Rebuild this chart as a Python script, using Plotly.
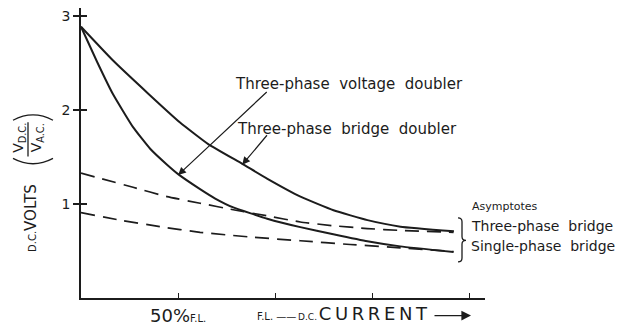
import plotly.graph_objects as go

# Output voltage ratio (V_DC / V_AC) against load current, in % of full load (F.L.)
load_voltage_doubler = [0, 16.5, 34.5, 51, 65.5, 83, 96, 113, 130, 147.5, 164.5, 192]
ratio_voltage_doubler = [2.89, 2.53, 2.18, 1.87, 1.64, 1.43, 1.27, 1.08, 0.935, 0.83, 0.76, 0.71]

load_bridge_doubler = [0, 8.2, 16.5, 26.8, 35.6, 44.3, 50, 61.3, 69.1, 78.4, 95.9, 112.9, 129.9, 147.4, 164.4, 191.8]
ratio_bridge_doubler = [2.89, 2.52, 2.17, 1.82, 1.59, 1.42, 1.32, 1.16, 1.06, 0.965, 0.845, 0.755, 0.68, 0.605, 0.55, 0.49]

# Asymptotes
load_three_phase = [0, 10.8, 26.8, 44.3, 61.3, 78.4, 95.9, 112.9, 129.9, 147.4, 164.4, 191.8]
ratio_three_phase = [1.33, 1.27, 1.18, 1.08, 1.01, 0.94, 0.875, 0.81, 0.77, 0.74, 0.72, 0.70]

load_single_phase = [0, 20.1, 40.7, 61.3, 87.1, 112.9, 138.6, 164.4, 191.8]
ratio_single_phase = [0.91, 0.83, 0.76, 0.70, 0.65, 0.61, 0.57, 0.535, 0.495]

y_ticks = [1, 2, 3]
x_ticks = [50, 100, 150, 200]
x_tick_text = ['50%<span style="font-size:10px">F.L.</span>', '', '', '']

INK = '#1c1c1c'
FONT = 'DejaVu Sans'

# plot-area geometry (pixels) used to place the hand-lettered decorations
L, R, T, B = 81, 151, 8, 29
W, H = 636, 334
PW, PH = W - L - R, H - T - B


def px(xp):
    return (xp - L) / PW


def py(yp):
    return (H - B - yp) / PH


fig = go.Figure()

solid = dict(color=INK, width=2, shape='spline', smoothing=0.4)
dashed = dict(color=INK, width=1.7, dash='14px,8px', shape='spline', smoothing=0.4)

fig.add_trace(go.Scatter(x=load_voltage_doubler, y=ratio_voltage_doubler, mode='lines', line=solid))
fig.add_trace(go.Scatter(x=load_bridge_doubler, y=ratio_bridge_doubler, mode='lines', line=solid))
fig.add_trace(go.Scatter(x=load_three_phase, y=ratio_three_phase, mode='lines', line=dashed))
fig.add_trace(go.Scatter(x=load_single_phase, y=ratio_single_phase, mode='lines', line=dashed))
# second (inner) set of y ticks so the ticks cross the axis
fig.add_trace(go.Scatter(x=[None], y=[None], yaxis='y2', showlegend=False))

label_font = dict(family=FONT, size=15, color=INK)
small_font = dict(family=FONT, size=14, color=INK)

annotations = [
    dict(x=78.4, y=2.28, text='Three-phase  voltage  doubler', showarrow=False,
         xanchor='left', yanchor='middle', font=label_font),
    dict(x=79.4, y=1.80, text='Three-phase  bridge  doubler', showarrow=False,
         xanchor='left', yanchor='middle', font=label_font),
    # pointer lines from the labels to their curves
    dict(x=50, y=1.31, ax=96.4, ay=2.21, axref='x', ayref='y', text='', showarrow=True,
         arrowhead=2, arrowsize=1.3, arrowwidth=1.2, arrowcolor=INK, standoff=0),
    dict(x=83.0, y=1.42, ax=96.4, ay=1.75, axref='x', ayref='y', text='', showarrow=True,
         arrowhead=2, arrowsize=1.3, arrowwidth=1.2, arrowcolor=INK, standoff=0),
    dict(x=200.5, y=0.98, text='Asymptotes', showarrow=False, xanchor='left', yanchor='middle',
         font=dict(family=FONT, size=11, color=INK)),
    dict(x=200.0, y=0.77, text='Three-phase  bridge', showarrow=False, xanchor='left',
         yanchor='middle', font=small_font),
    dict(x=200.0, y=0.55, text='Single-phase  bridge', showarrow=False, xanchor='left',
         yanchor='middle', font=small_font),
    # x-axis caption
    dict(x=px(255), y=py(321), xref='paper', yref='paper',
         text='<span style="font-size:10px">F.L. ——</span>'
              '<span style="font-size:9px">\u2009D.C.\u2009</span>C\u2009U\u2009R\u2009R\u2009E\u2009N\u2009T',
         showarrow=False, xanchor='left', yanchor='middle',
         font=dict(family=FONT, size=18, color=INK)),
    dict(x=px(471), y=py(323), xref='paper', yref='paper', ax=-38, ay=0, text='',
         showarrow=True, arrowhead=2, arrowsize=1.6, arrowwidth=1.2, arrowcolor=INK, standoff=0),
    # y-axis caption
    dict(x=px(31), y=py(223), xref='paper', yref='paper', textangle=-90, showarrow=False,
         xanchor='center', yanchor='middle',
         text='<span style="font-size:10px">D.C.</span>VOLTS',
         font=dict(family=FONT, size=15, color=INK)),
    dict(x=px(28), y=py(141), xref='paper', yref='paper', textangle=-90, showarrow=False,
         xanchor='center', yanchor='middle',
         text='V<sub>D.C.</sub><br>V<sub>A.C.</sub>',
         font=dict(family=FONT, size=14, color=INK)),
]

line_style = dict(color=INK, width=1.3)
shapes = [
    # fraction bar
    dict(type='line', xref='paper', yref='paper', x0=px(28), x1=px(28), y0=py(160), y1=py(125),
         line=line_style),
    # parentheses round the fraction
    dict(type='path', xref='paper', yref='paper',
         path=f'M {px(13)},{py(123)} Q {px(33)},{py(112)} {px(53)},{py(123)}', line=line_style),
    dict(type='path', xref='paper', yref='paper',
         path=f'M {px(13)},{py(162)} Q {px(33)},{py(173)} {px(53)},{py(162)}', line=line_style),
    # brace grouping the asymptote labels
    dict(type='path', xref='paper', yref='paper',
         path=(f'M {px(458)},{py(223)} Q {px(462)},{py(223)} {px(462)},{py(227)} '
               f'L {px(462)},{py(242)} Q {px(462)},{py(246)} {px(466)},{py(246)} '
               f'Q {px(462)},{py(246)} {px(462)},{py(250)} L {px(462)},{py(264)} '
               f'Q {px(462)},{py(268)} {px(458)},{py(268)}'),
         line=line_style),
]

fig.update_layout(
    width=W, height=H,
    margin=dict(l=L, r=R, t=T, b=B, pad=0),
    paper_bgcolor='white', plot_bgcolor='white',
    showlegend=False,
    annotations=annotations,
    shapes=shapes,
    xaxis=dict(range=[0, 208], tickvals=x_ticks, ticktext=x_tick_text, ticks='inside',
               ticklen=5, tickwidth=1.3, tickcolor=INK, showline=True, linecolor=INK,
               linewidth=1.8, showgrid=False, zeroline=False,
               tickfont=dict(family=FONT, size=18, color=INK)),
    yaxis=dict(range=[0, 3.09], tickvals=y_ticks, ticks='outside', ticklen=6, tickwidth=1.5,
               tickcolor=INK, showline=True, linecolor=INK, linewidth=1.8, showgrid=False,
               zeroline=False, tickfont=dict(family=FONT, size=14, color=INK)),
    yaxis2=dict(range=[0, 3.09], overlaying='y', side='left', tickvals=y_ticks, ticks='inside',
                ticklen=6, tickwidth=1.5, tickcolor=INK, showticklabels=False, showline=False,
                showgrid=False, zeroline=False),
)

fig.write_html('out.html')
